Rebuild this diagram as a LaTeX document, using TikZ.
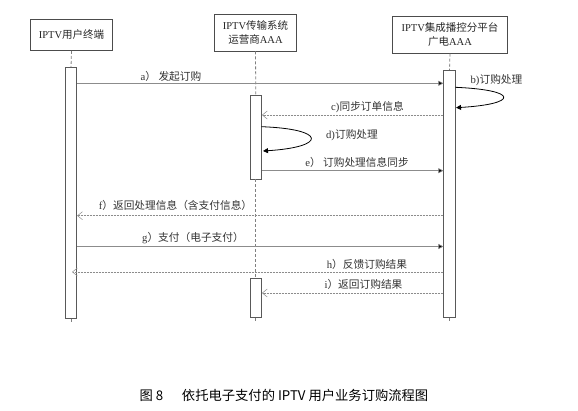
\documentclass[tikz,border=0pt]{standalone}
\usepackage{fontspec}
\setmainfont{Liberation Serif}
\newfontfamily\cjk{Noto Sans CJK SC}
\usetikzlibrary{arrows.meta}
\newcommand\zh[1]{{\cjk #1}}
\begin{document}
\begin{tikzpicture}[x=1pt,y=-1pt,
  actorbox/.style={draw=black!70, line width=0.8pt, fill=white, inner sep=0pt, align=center,
    font=\fontsize{10.5}{14}\selectfont, text=black!85},
  actbar/.style={draw=black!65, line width=0.7pt, fill=white, minimum width=11.5pt, inner sep=0pt, anchor=north},
  lifeline/.style={draw=black!50, line width=0.8pt, dash pattern=on 3pt off 2pt},
  callmsg/.style={draw=black!45, line width=0.6pt, -{Triangle[length=5pt,width=5pt,fill=black]}},
  retmsg/.style={draw=black!45, line width=0.5pt, dash pattern=on 2pt off 1pt, -{Straight Barb[length=5pt,width=8pt,line width=0.5pt]}},
  selfmsg/.style={draw=black, line width=0.8pt, -{Triangle[length=5pt,width=5pt]}},
  msglabel/.style={font=\fontsize{10.7}{12}\selectfont, text=black!80, inner sep=0pt}
]
\useasboundingbox (0,0) rectangle (578,411);

% actor boxes
\node[actorbox, minimum width=82pt, minimum height=31pt] (user) at (71.5,35) {IPTV\zh{用户终端}};
\node[actorbox, minimum width=82pt, minimum height=37pt] (trans) at (255.5,32.5) {IPTV\zh{传输系统}\\\zh{运营商}AAA};
\node[actorbox, minimum width=115pt, minimum height=37pt] (plat) at (450,34.7) {IPTV\zh{集成播控分平台}\\\zh{广电}AAA};

% activation bars
\node[actbar, minimum height=251pt] (ubar) at (71,67.3) {};
\node[actbar, minimum height=83.5pt] (tbar1) at (255.8,95.3) {};
\node[actbar, minimum height=39pt] (tbar2) at (255.8,278.3) {};
\node[actbar, minimum height=247.5pt] (pbar) at (449.5,70) {};

% lifeline ends
\coordinate (uend) at (71,323);
\coordinate (tend) at (255.8,322);
\coordinate (pend) at (449.5,322);

% lifelines
\draw[lifeline] (user.south) -- (ubar.north);
\draw[lifeline] (trans.south) -- (tbar1.north);
\draw[lifeline] (tbar1.south) -- (tbar2.north);
\draw[lifeline] (plat.south) -- (pbar.north);
\draw[lifeline] (ubar.south) -- (uend);
\draw[lifeline] (tbar2.south) -- (tend);
\draw[lifeline] (pbar.south) -- (pend);

% message rows
\coordinate (ya) at (0,83.3);
\coordinate (yc) at (0,115);
\coordinate (ye) at (0,170.7);
\coordinate (yf) at (0,215.7);
\coordinate (yg) at (0,246.5);
\coordinate (yh) at (0,272);
\coordinate (yi) at (0,293);

% a
\draw[callmsg] (ubar.east |- ya) -- (pbar.west |- ya);
\node[msglabel] (la) at (171,76.5) {a\zh{） 发起订购}};
% b self
\coordinate (b1) at (455.3,87.3);
\coordinate (b2) at (456,107.7);
\draw[selfmsg] (b1) .. controls (519,90) and (519,104) .. (b2);
\node[msglabel] (lb) at (496.5,80) {b)\zh{订购处理}};
% c
\draw[retmsg] (pbar.west |- yc) -- (tbar1.east |- yc);
\node[msglabel] (lc) at (367.5,107) {c)\zh{同步订单信息}};
% d self
\coordinate (d1) at (261.3,126.7);
\coordinate (d2) at (263,151);
\draw[selfmsg] (d1) .. controls (327,129) and (327,147) .. (d2);
\node[msglabel] (ld) at (352,135.5) {d)\zh{订购处理}};
% e
\draw[callmsg] (tbar1.east |- ye) -- (pbar.west |- ye);
\node[msglabel] (le) at (357,162) {e\zh{） 订购处理信息同步}};
% f
\draw[retmsg] (pbar.west |- yf) -- (ubar.east |- yf);
\node[msglabel] (lf) at (175.5,205.5) {f\zh{）返回处理信息（含支付信息）}};
% g
\draw[callmsg] (ubar.east |- yg) -- (pbar.west |- yg);
\node[msglabel] (lg) at (193,238.5) {g\zh{）支付（电子支付）}};
% h
\coordinate (hend) at (72,272);
\draw[retmsg] (pbar.west |- yh) -- (hend);
\node[msglabel] (lh) at (367,264) {h\zh{）反馈订购结果}};
% i
\draw[retmsg] (pbar.west |- yi) -- (tbar2.east |- yi);
\node[msglabel] (li) at (363.5,284) {i\zh{）返回订购结果}};

% caption
\node[font=\cjk\fontsize{13.3}{15}\selectfont, text=black, inner sep=0pt] (cap) at (284,395)
  {图 8\hspace{1.4em}依托电子支付的 IPTV 用户业务订购流程图};
\end{tikzpicture}
\end{document}
